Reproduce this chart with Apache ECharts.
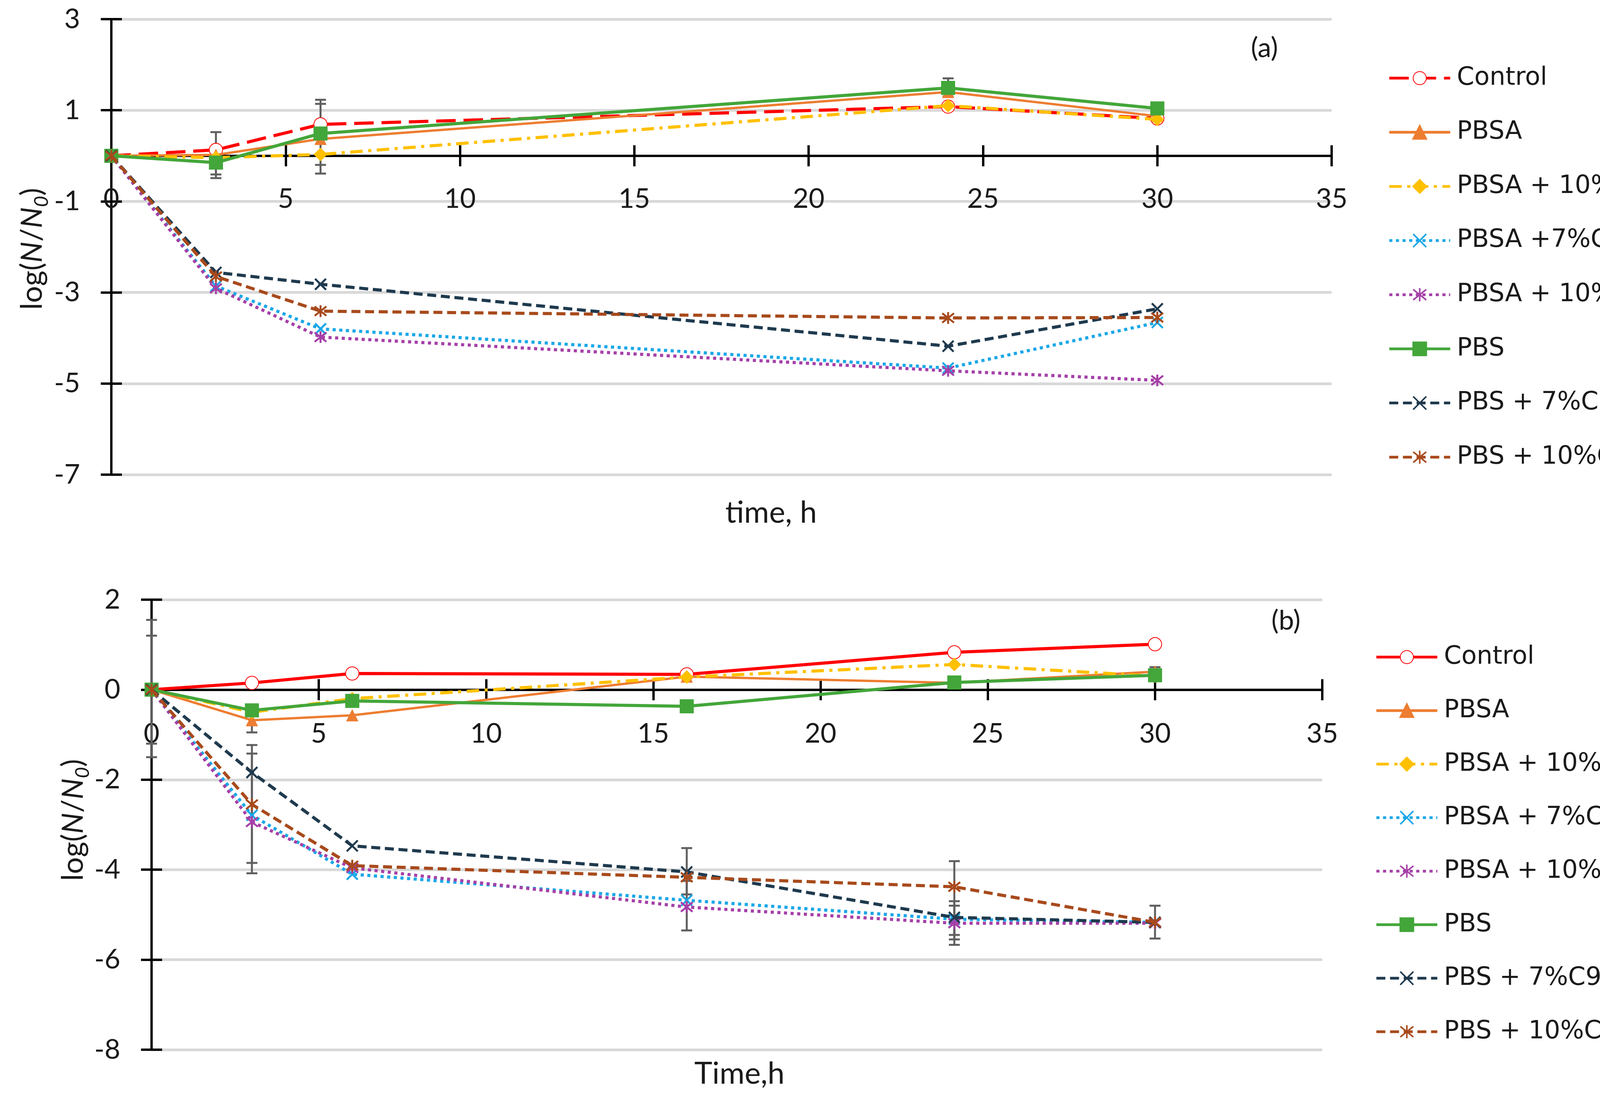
<!DOCTYPE html>
<html>
<head>
<meta charset="utf-8">
<script src="https://cdn.jsdelivr.net/npm/echarts@6/dist/echarts.min.js"></script>
<style>
html,body{margin:0;padding:0;background:#fff;overflow:hidden;}
#chart{width:4302px;height:2826px;}
</style>
</head>
<body>
<div id="chart"></div>
<script>
// ---------- DATA ----------
const seriesNamesA = ['Control', 'PBSA', 'PBSA + 10%C95', 'PBSA +7%C98', 'PBSA + 10%C98', 'PBS', 'PBS + 7%C98', 'PBS + 10%C98'];
const seriesNamesB = ['Control', 'PBSA', 'PBSA + 10%C95', 'PBSA + 7%C98', 'PBSA + 10%C98', 'PBS', 'PBS + 7%C98', 'PBS + 10%C98'];

const timeA = [0, 3, 6, 24, 30];
const A_control     = [0, 0.13, 0.69, 1.08, 0.82];
const A_pbsa        = [0, 0.02, 0.37, 1.40, 0.87];
const A_pbsa10c95   = [0, -0.04, 0.03, 1.10, 0.80];
const A_pbsa7c98    = [0, -2.86, -3.80, -4.66, -3.66];
const A_pbsa10c98   = [0, -2.91, -3.98, -4.72, -4.93];
const A_pbs         = [0, -0.15, 0.49, 1.49, 1.04];
const A_pbs7c98     = [0, -2.56, -2.82, -4.18, -3.36];
const A_pbs10c98    = [0, -2.65, -3.41, -3.56, -3.55];
// error bars (a): [time, low, high]
const A_err = [[3, -0.49, 0.52], [3, -0.41, 0.11], [6, -0.39, 1.23], [6, -0.20, 1.14], [24, 1.30, 1.70]];

const timeB = [0, 3, 6, 16, 24, 30];
const B_control     = [0, 0.15, 0.36, 0.34, 0.83, 1.01];
const B_pbsa        = [0, -0.68, -0.57, 0.29, 0.15, 0.40];
const B_pbsa10c95   = [0, -0.50, -0.20, 0.28, 0.56, 0.30];
const B_pbsa7c98    = [0, -2.79, -4.10, -4.68, -5.10, -5.17];
const B_pbsa10c98   = [0, -2.94, -3.96, -4.83, -5.19, -5.19];
const B_pbs         = [0, -0.46, -0.25, -0.37, 0.16, 0.32];
const B_pbs7c98     = [0, -1.84, -3.47, -4.05, -5.06, -5.17];
const B_pbs10c98    = [0, -2.55, -3.91, -4.17, -4.38, -5.17];
// error bars (b): [time, low, high]
const B_err = [[0, -1.50, 1.55], [0, -1.20, 1.20], [3, -4.08, -1.23], [3, -3.85, -1.42], [3, -0.95, -0.45],
               [16, -5.35, -3.52], [16, -4.55, -4.25], [24, -5.67, -3.81], [24, -5.55, -4.70], [24, -5.45, -4.80],
               [30, -5.53, -4.80], [30, 0.28, 0.50]];

const xTicks = {min: 0, max: 35, interval: 5};
const yTicksA = {min: -7, max: 3, interval: 2};
const yTicksB = {min: -8, max: 2, interval: 2};

// ---------- LAYOUT ----------
const gridA = {left: 285, top: 49, width: 3124, height: 1166};
const gridB = {left: 388, top: 1535, width: 2997, height: 1152};
// x axis crosses at y = 0: shift it up from the grid bottom
const zeroOffset = (g, t) => -g.height * (0 - t.min) / (t.max - t.min);

// ---------- STYLES ----------
const X_PATH = 'path://M0,0L20,20M20,0L0,20';
const STAR_PATH = 'path://M2,2L18,18M18,2L2,18M10,0L10,20';
const C = {
  red: '#FF0000', orange: '#ED7D31', yellow: '#FFC000', lblue: '#1AA7E8',
  purple: '#A540A8', green: '#43A63A', navy: '#1F3A4E', brown: '#A84A1C'
};
function styleFor(key, chart) {
  const dotted = [8, 9];
  const dashed = [23, 12];
  switch (key) {
    case 0: return {color: C.red, symbol: 'emptyCircle', size: 34, line: chart === 'a' ? [50, 20] : 'solid', width: 8, bw: 5};
    case 1: return {color: C.orange, symbol: 'triangle', size: 30, line: 'solid', width: 6, bw: 1};
    case 2: return {color: C.yellow, symbol: 'diamond', size: 34, line: [32, 14, 8, 14], width: 8, bw: 1};
    case 3: return {color: C.lblue, symbol: X_PATH, size: 28, line: dotted, width: 8, bw: 5};
    case 4: return {color: C.purple, symbol: STAR_PATH, size: 30, line: dotted, width: 8, bw: 5};
    case 5: return {color: C.green, symbol: 'rect', size: 35, line: 'solid', width: 8, bw: 1};
    case 6: return {color: C.navy, symbol: X_PATH, size: 28, line: dashed, width: 8, bw: 5};
    case 7: return {color: C.brown, symbol: STAR_PATH, size: 30, line: dashed, width: 8, bw: 5};
  }
}

function makeLine(name, times, vals, idx, chart, axisIdx) {
  const s = styleFor(idx, chart);
  return {
    type: 'line', name: name,
    xAxisIndex: axisIdx, yAxisIndex: axisIdx,
    data: times.map((t, i) => [t, vals[i]]),
    symbol: s.symbol, symbolSize: s.size, showSymbol: true,
    color: s.color,
    itemStyle: {color: s.color, borderColor: s.color, borderWidth: s.bw},
    lineStyle: {color: s.color, width: s.width, type: s.line, cap: 'butt'},
    z: 3 + idx * 0.01, animation: false
  };
}

function errRender(params, api) {
  const x = api.value(0), lo = api.value(1), hi = api.value(2);
  const p1 = api.coord([x, lo]);
  const p2 = api.coord([x, hi]);
  const w = 14;
  const st = {stroke: '#5f5f5f', lineWidth: 5};
  return {type: 'group', children: [
    {type: 'line', shape: {x1: p1[0], y1: p1[1], x2: p2[0], y2: p2[1]}, style: st},
    {type: 'line', shape: {x1: p1[0] - w, y1: p1[1], x2: p1[0] + w, y2: p1[1]}, style: st},
    {type: 'line', shape: {x1: p2[0] - w, y1: p2[1], x2: p2[0] + w, y2: p2[1]}, style: st}
  ]};
}

const axisFont = 'Lato';
const labelColor = '#1a1a1a';
const AXW = 6;

function xAxes(gridIndex, margin, offset) {
  const base = {type: 'value', gridIndex: gridIndex, min: xTicks.min, max: xTicks.max, interval: xTicks.interval, position: 'bottom', offset: offset};
  return [
    Object.assign({}, base, {
      axisLine: {show: true, onZero: false, lineStyle: {color: '#000', width: AXW}},
      axisTick: {show: true, inside: false, length: 27, lineStyle: {color: '#000', width: AXW}},
      axisLabel: {show: true, margin: margin, fontFamily: axisFont, fontSize: 70, color: labelColor},
      splitLine: {show: false}
    }),
    Object.assign({}, base, {
      axisLine: {show: false, onZero: false},
      axisTick: {show: true, inside: true, length: 27, lineStyle: {color: '#000', width: AXW}},
      axisLabel: {show: false}, splitLine: {show: false}
    })
  ];
}
function yAxes(gridIndex, ticks) {
  const base = {type: 'value', gridIndex: gridIndex, min: ticks.min, max: ticks.max, interval: ticks.interval, position: 'left'};
  return [
    Object.assign({}, base, {
      axisLine: {show: true, onZero: false, lineStyle: {color: '#000', width: AXW}},
      axisTick: {show: true, inside: false, length: 27, lineStyle: {color: '#000', width: AXW}},
      axisLabel: {show: true, margin: 80, fontFamily: axisFont, fontSize: 70, color: labelColor},
      splitLine: {show: true, lineStyle: {color: '#d9d9d9', width: 7}}
    }),
    Object.assign({}, base, {
      axisLine: {show: false, onZero: false},
      axisTick: {show: true, inside: true, length: 27, lineStyle: {color: '#000', width: AXW}},
      axisLabel: {show: false}, splitLine: {show: false}
    })
  ];
}

const valsA = [A_control, A_pbsa, A_pbsa10c95, A_pbsa7c98, A_pbsa10c98, A_pbs, A_pbs7c98, A_pbs10c98];
const valsB = [B_control, B_pbsa, B_pbsa10c95, B_pbsa7c98, B_pbsa10c98, B_pbs, B_pbs7c98, B_pbs10c98];
const B_PREFIX = 'b:';

const series = [];
series.push({type: 'custom', name: 'errA', xAxisIndex: 0, yAxisIndex: 0, renderItem: errRender,
  data: A_err, encode: {x: 0, y: [1, 2]}, z: 2, silent: true, animation: false});
valsA.forEach((v, i) => series.push(makeLine(seriesNamesA[i], timeA, v, i, 'a', 0)));
series.push({type: 'custom', name: 'errB', xAxisIndex: 2, yAxisIndex: 2, renderItem: errRender,
  data: B_err, encode: {x: 0, y: [1, 2]}, z: 2, silent: true, animation: false});
valsB.forEach((v, i) => series.push(makeLine(B_PREFIX + seriesNamesB[i], timeB, v, i, 'b', 2)));

const legendCommon = {
  orient: 'vertical', padding: 0, itemWidth: 156, itemHeight: 42,
  selectedMode: false,
  textStyle: {fontFamily: 'DejaVu Sans', fontSize: 64, color: labelColor, lineHeight: 80, padding: [0, 0, 0, 12]},
  lineStyle: {width: 7},
  itemStyle: {borderWidth: 4}
};

const yTitleStyle = (x, y) => ({
  type: 'text', x: x, y: y, rotation: Math.PI / 2,
  style: {
    text: 'log({i|N}/{i|N}{s|0})',
    fontFamily: axisFont, fontSize: 76, fill: labelColor, lineHeight: 100,
    align: 'center', verticalAlign: 'middle',
    rich: {
      i: {fontFamily: axisFont, fontSize: 76, fontStyle: 'italic', fill: labelColor, lineHeight: 100},
      s: {fontFamily: axisFont, fontSize: 50, fontStyle: 'italic', fill: labelColor, lineHeight: 50, verticalAlign: 'bottom'}
    }
  }
});

const option = {
  backgroundColor: '#fff',
  animation: false,
  grid: [
    Object.assign({containLabel: false}, gridA),
    Object.assign({containLabel: false}, gridB)
  ],
  xAxis: [].concat(xAxes(0, 76, zeroOffset(gridA, yTicksA)), xAxes(1, 78, zeroOffset(gridB, yTicksB))),
  yAxis: [].concat(yAxes(0, yTicksA), yAxes(1, yTicksB)),
  legend: [
    Object.assign({}, legendCommon, {left: 3553, top: 160, itemGap: 58.6, data: seriesNamesA.slice()}),
    Object.assign({}, legendCommon, {left: 3520, top: 1642, itemGap: 57,
      data: seriesNamesB.map(n => B_PREFIX + n),
      formatter: n => n.indexOf(B_PREFIX) === 0 ? n.slice(B_PREFIX.length) : n})
  ],
  graphic: [
    {type: 'text', x: 1974, y: 1313, style: {text: 'time, h', fontFamily: axisFont, fontSize: 78, fill: labelColor, align: 'center', verticalAlign: 'middle'}},
    {type: 'text', x: 1893, y: 2749, style: {text: 'Time,h', fontFamily: axisFont, fontSize: 78, fill: labelColor, align: 'center', verticalAlign: 'middle'}},
    {type: 'text', x: 3237, y: 123, style: {text: '(a)', fontFamily: axisFont, fontSize: 70, fill: labelColor, align: 'center', verticalAlign: 'middle'}},
    {type: 'text', x: 3292, y: 1589, style: {text: '(b)', fontFamily: axisFont, fontSize: 70, fill: labelColor, align: 'center', verticalAlign: 'middle'}},
    yTitleStyle(82, 637),
    yTitleStyle(187, 2099)
  ],
  series: series
};

const chart = echarts.init(document.getElementById('chart'), null, {renderer: 'canvas'});
chart.setOption(option);
</script>
</body>
</html>
